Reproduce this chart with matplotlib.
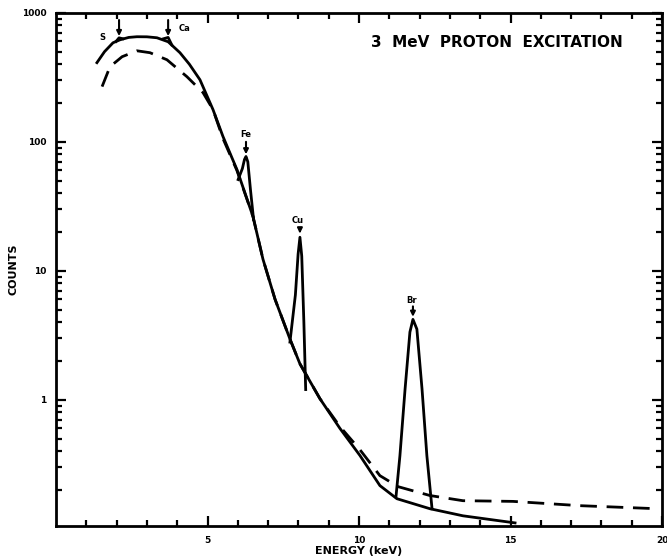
import matplotlib
matplotlib.use("Agg")
import matplotlib.pyplot as plt
from matplotlib.ticker import FixedLocator, NullFormatter, LogLocator
import numpy as np

# continuum (solid), keV / counts
solid_e = [1.35, 1.60, 1.88, 2.11, 2.40, 2.67, 3.00, 3.33, 3.70, 4.09, 4.40,
           4.75, 5.18, 5.51, 5.97, 6.50, 6.83, 7.23, 7.72, 8.05, 8.71, 9.37,
           10.03, 10.69, 11.25, 12.34, 13.43, 14.55, 15.15]
solid_c = [411, 500, 586, 618, 645, 653, 652, 641, 597, 491, 400,
           303, 178, 110, 61, 26.4, 12.3, 6.0, 2.96, 1.90, 1.02, 0.60,
           0.37, 0.216, 0.171, 0.143, 0.126, 0.116, 0.111]

# dashed curve
dash_e = [1.52, 1.78, 2.18, 2.67, 3.10, 3.66, 4.32, 4.85, 5.18, 5.51, 5.97,
          6.50, 6.83, 7.23, 7.72, 8.05, 8.71, 9.37, 10.03, 10.69, 11.29,
          12.34, 13.43, 15.08, 17.29, 19.83]
dash_c = [268, 382, 457, 508, 491, 433, 320, 241, 178, 106, 60,
          26.4, 12.3, 6.0, 2.96, 1.90, 1.02, 0.62, 0.41, 0.258, 0.212,
          0.181, 0.165, 0.163, 0.151, 0.143]

# characteristic peaks
fe_e = [6.01, 6.15, 6.22, 6.27, 6.33, 6.42, 6.52]
fe_c = [51, 62, 73, 77, 70, 42, 25]
cu_e = [7.72, 7.90, 7.99, 8.05, 8.11, 8.18, 8.24]
cu_c = [2.8, 6.5, 13.5, 18.2, 13.0, 4.0, 1.2]
br_e = [11.22, 11.35, 11.52, 11.68, 11.78, 11.91, 12.08, 12.24, 12.41]
br_c = [0.177, 0.368, 1.21, 3.35, 4.2, 3.53, 1.21, 0.368, 0.143]
s_e = [1.98, 2.08, 2.20]
s_c = [600, 640, 630]
ca_e = [3.55, 3.70, 3.82]
ca_c = [630, 645, 565]

# element labels: name, energy, label position, arrow top, arrow tip
elements = ["S", "Ca", "Fe", "Cu", "Br"]
elem_e = [2.08, 3.70, 6.27, 8.05, 11.78]
label_e = [1.53, 4.25, 6.27, 7.98, 11.75]
label_c = [640, 760, 113, 24.5, 5.9]
arrow_top = [880, 880, 100, 21, 5.3]
arrow_tip = [660, 660, 80, 19.5, 4.4]

plt.rcParams['font.family'] = 'DejaVu Sans'
fig = plt.figure(figsize=(6.67, 5.59), dpi=100)
ax = fig.add_axes([0.084, 0.059, 0.9085, 0.918])

lw = 2.0
ax.plot(solid_e, solid_c, color='black', lw=lw)
ax.plot(dash_e, dash_c, color='black', lw=lw, dashes=(6, 3.5))
for e, c in [(fe_e, fe_c), (cu_e, cu_c), (br_e, br_c), (s_e, s_c), (ca_e, ca_c)]:
    ax.plot(e, c, color='black', lw=lw)

for name, e, le, lc, at, tip in zip(elements, elem_e, label_e, label_c, arrow_top, arrow_tip):
    ax.text(le, lc, name, ha='center', va='center', fontsize=6, fontweight='bold')
    ax.annotate('', xy=(e, tip), xytext=(e, at),
                arrowprops=dict(arrowstyle='-|>', color='black', lw=1.5,
                                mutation_scale=7, shrinkA=0, shrinkB=0))

ax.text(14.55, 586, "3  MeV  PROTON  EXCITATION", ha='center', va='center',
        fontsize=11, fontweight='bold')

ax.set_yscale('log')
ax.set_xlim(0, 20)
ax.set_ylim(0.105, 1000)

ax.xaxis.set_major_locator(FixedLocator([5, 10, 15, 20]))
ax.xaxis.set_minor_locator(FixedLocator(np.arange(1, 20)))
ax.set_xticklabels(['5', '10', '15', '20'])
ax.yaxis.set_major_locator(FixedLocator([1, 10, 100, 1000]))
ax.yaxis.set_minor_locator(LogLocator(base=10, subs=np.arange(2, 10)))
ax.yaxis.set_minor_formatter(NullFormatter())
ax.set_yticklabels(['1', '10', '100', '1000'])

ax.tick_params(which='both', direction='in', top=True, right=True, width=1.6,
               labelsize=6.5)
ax.tick_params(which='major', length=7, pad=7)
ax.tick_params(which='minor', length=4)
for lab in ax.get_xticklabels() + ax.get_yticklabels():
    lab.set_fontweight('bold')
for sp in ax.spines.values():
    sp.set_linewidth(2)

ax.set_xlabel('ENERGY (keV)', fontsize=8, fontweight='bold', labelpad=1)
ax.set_ylabel('COUNTS', fontsize=8, fontweight='bold')
ax.yaxis.set_label_coords(-0.062, 0.5)

fig.savefig('out.png', dpi=100)
